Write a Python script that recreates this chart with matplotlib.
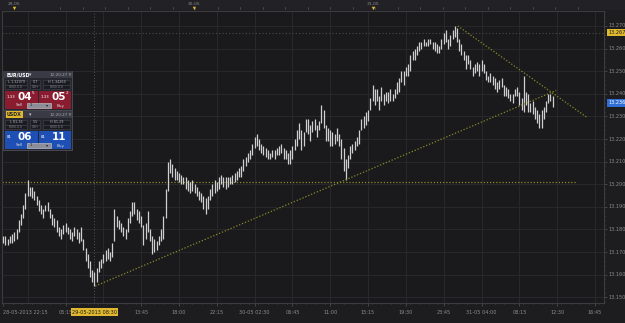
import numpy as np
import matplotlib
matplotlib.use("Agg")
import matplotlib.pyplot as plt
from matplotlib.patches import Rectangle

# 15 minute bars starting 28-05-2013 22:15, values in thousandths above 13.000
bar_high = [177, 177, 176, 177, 178, 179, 180, 184, 187, 191, 196, 202, 199, 199, 197, 195,
            193, 191, 189, 191, 192, 189, 187, 185, 184, 181, 180, 182, 183, 181, 180, 179,
            181, 180, 179, 181, 176, 172, 169, 166, 162, 161, 163, 166, 167, 169, 171, 172,
            170, 174, 189, 186, 184, 183, 181, 180, 185, 188, 192, 192, 189, 188, 186, 182,
            183, 188, 180, 177, 176, 175, 177, 180, 186, 198, 210, 211, 209, 207, 206, 205,
            204, 203, 203, 202, 201, 202, 200, 199, 197, 196, 195, 194, 195, 198, 200, 202,
            201, 203, 204, 203, 203, 203, 203, 204, 205, 206, 207, 208, 211, 212, 214, 215,
            218, 221, 222, 220, 218, 217, 216, 215, 214, 215, 215, 216, 217, 218, 216, 215,
            214, 215, 217, 220, 224, 227, 224, 223, 229, 229, 226, 228, 229, 226, 228, 235,
            233, 226, 225, 224, 223, 222, 225, 222, 220, 216, 211, 213, 217, 218, 219, 221,
            224, 229, 230, 232, 233, 238, 244, 242, 242, 239, 243, 240, 241, 241, 242, 240,
            242, 245, 247, 250, 250, 252, 253, 257, 259, 260, 261, 263, 263, 264, 263, 264,
            264, 263, 263, 262, 261, 264, 267, 268, 264, 266, 268, 270, 269, 264, 262, 259,
            257, 257, 255, 252, 253, 254, 253, 255, 253, 250, 248, 249, 248, 247, 245, 246,
            247, 244, 243, 242, 240, 240, 242, 243, 241, 238, 248, 241, 240, 236, 237, 234,
            233, 231, 233, 234, 237, 240, 240, 239]
bar_low = [174, 173, 173, 174, 174, 175, 176, 179, 182, 185, 189, 195, 195, 194, 193, 191,
           188, 187, 185, 188, 188, 185, 182, 181, 179, 177, 176, 178, 179, 178, 176, 175,
           177, 176, 174, 175, 171, 166, 163, 159, 157, 155, 157, 161, 163, 165, 166, 167,
           166, 168, 175, 181, 180, 179, 177, 176, 179, 183, 186, 187, 184, 183, 181, 173,
           176, 179, 175, 169, 170, 171, 173, 175, 176, 185, 197, 205, 203, 202, 202, 201,
           200, 200, 198, 197, 196, 197, 196, 195, 193, 192, 189, 187, 189, 193, 195, 196,
           197, 198, 200, 199, 198, 199, 200, 200, 201, 202, 203, 203, 206, 208, 210, 211,
           213, 216, 217, 215, 214, 213, 212, 211, 211, 212, 211, 213, 213, 214, 211, 211,
           209, 209, 211, 215, 217, 220, 215, 217, 223, 222, 219, 223, 224, 221, 224, 227,
           225, 219, 219, 217, 217, 218, 219, 217, 211, 206, 202, 207, 211, 214, 215, 217,
           218, 224, 225, 226, 228, 233, 237, 235, 237, 233, 237, 235, 237, 236, 237, 237,
           238, 240, 241, 245, 244, 248, 248, 250, 255, 255, 257, 259, 260, 261, 261, 261,
           262, 260, 259, 258, 258, 260, 262, 263, 260, 261, 264, 265, 263, 259, 257, 255,
           251, 253, 251, 248, 249, 250, 248, 250, 249, 246, 245, 245, 244, 242, 241, 242,
           243, 239, 239, 238, 237, 236, 239, 239, 235, 233, 232, 235, 232, 232, 231, 229,
           227, 225, 225, 229, 232, 236, 237, 234]

# tick bars (index) and their labels
tick_idx = [0, 28, 62, 79, 96, 113, 130, 147, 164, 181, 198, 215, 232, 249, 266]
tick_lbl = ["28-05-2013 22:15", "05:15", "13:45", "18:00", "22:15", "30-05 02:30", "06:45",
            "11:00", "15:15", "19:30", "23:45", "31-05 04:00", "08:15", "12:30", "16:45"]
grid_idx = [11, 28, 45, 62, 79, 96, 113, 130, 147, 164, 181, 198, 215, 232, 249, 266]
price_ticks = [13.150, 13.160, 13.170, 13.180, 13.190, 13.200, 13.210, 13.220,
               13.230, 13.240, 13.250, 13.260, 13.270]

# drawn objects
support_level = 13.201
top_level = 13.267
last_price = 13.236
up_line_idx = [41.4, 248.6]
up_line_px = [13.155, 13.2415]
down_line_idx = [204.3, 262.5]
down_line_px = [13.270, 13.2295]
cursor_idx = 41
cursor_lbl = "29-05-2013 08:30"

# trade panel texts
eur_rows = [["L 1.32979", "0.7", "H 1.34269"], ["8000.0.0", "0.8+", "8000.0.0"]]
usdx_rows = [["L 81.36", "5.5", "H 81.29"], ["8000.0.0", "0.8+", "8000.0.0"]]

bg = "#1d1d1f"
grid_c = "#2b2b2e"
txt_c = "#8c8c8c"
line_c = "#8a8a2a"

hi = 13 + np.array(bar_high) / 1000.0
lo = 13 + np.array(bar_low) / 1000.0
idx = np.arange(len(hi))

fig = plt.figure(figsize=(6.25, 3.23), dpi=100)
fig.patch.set_facecolor(bg)
ax = fig.add_axes([0.003, 20 / 323, 602 / 625, 292 / 323])
ax.set_facecolor("#1a1a1c")
ax.set_xlim(-0.6, 270)
ax.set_ylim(13.1475, 13.2766)

for v in grid_idx:
    ax.axvline(v, color=grid_c, lw=0.6, zorder=0)
for p in price_ticks:
    ax.axhline(p, color=grid_c, lw=0.6, zorder=0)

ax.vlines(idx, lo, hi, color="#cfcfcf", lw=0.9, zorder=3)

ax.axhline(support_level, xmax=0.955, color=line_c, lw=0.9, ls=(0, (1, 1.5)), zorder=2)
ax.axhline(top_level, color="#4a4a4a", lw=0.8, ls=(0, (1, 2)), zorder=2)
ax.axvline(cursor_idx, color="#555555", lw=0.7, ls=(0, (1, 2)), zorder=1)
ax.plot(up_line_idx, up_line_px, color=line_c, lw=0.9, ls=(0, (1, 1.5)), zorder=4)
ax.plot(down_line_idx, down_line_px, color=line_c, lw=0.9, ls=(0, (1, 1.5)), zorder=4)

ax.set_xticks(tick_idx)
ax.set_xticklabels([])
ax.set_xticks(np.arange(0, 270, 4.25), minor=True)
ax.set_yticks(price_ticks)
ax.set_yticklabels([])
ax.set_yticks(np.arange(13.148, 13.277, 0.002), minor=True)
ax.tick_params(which="both", colors="#555555", length=2, width=0.5,
               bottom=True, top=False, left=False, right=True)
ax.tick_params(which="minor", length=1)
for s in ax.spines.values():
    s.set_color("#3c3c40")
    s.set_linewidth(0.8)

for i, lab in zip(tick_idx, tick_lbl):
    ax.text(i if i > 0 else -0.3, 13.1445, lab, color=txt_c, fontsize=3.6,
            ha="center" if i > 0 else "left", va="top")
for p in price_ticks:
    ax.text(270 + 2, p, "%.3f" % p, color=txt_c, fontsize=3.6, va="center", ha="left",
            clip_on=False)

ax.text(cursor_idx, 13.1446, cursor_lbl, color="#1a1a1a", fontsize=3.6, ha="center",
        va="top", bbox=dict(boxstyle="square,pad=0.25", fc="#e0b830", ec="none"))
ax.text(272, top_level, "%.3f" % top_level, color="#1a1a1a", fontsize=3.6, va="center",
        ha="left", clip_on=False,
        bbox=dict(boxstyle="square,pad=0.25", fc="#e0b830", ec="none"))
ax.text(272, last_price, "%.3f" % last_price, color="white", fontsize=3.6, va="center",
        ha="left", clip_on=False,
        bbox=dict(boxstyle="square,pad=0.25", fc="#2f6fd6", ec="none"))

# overlay in pixel coordinates for the top strip and the trade panels
ov = fig.add_axes([0, 0, 1, 1])
ov.set_xlim(0, 625)
ov.set_ylim(323, 0)
ov.axis("off")
ov.add_patch(Rectangle((0, 0), 625, 10, fc="#222226", ec="none"))
for x, lab in [(14, "29-05"), (194, "30-05"), (373, "31-05")]:
    ov.text(x, 4, lab, color=txt_c, fontsize=3.2, ha="center", va="center")
    ov.plot([x], [8.3], marker="v", ms=2.5, color="#e0b830", mec="none")
for x in np.arange(60, 600, 22.5):
    ov.plot([x, x], [7, 9], color="#555555", lw=0.5)


def panel(y0, name, name_bg, btn_c, left, right, sup_l, sup_r, rows):
    ov.add_patch(Rectangle((3, y0), 69, 39, fc="#26262e", ec="#50505c", lw=0.6))
    ov.add_patch(Rectangle((3, y0), 69, 7, fc="#3a3a46", ec="none"))
    ov.text(7, y0 + 3.6, name, color="white" if name_bg is None else "#222222",
            fontsize=3.4, fontweight="bold", va="center",
            bbox=None if name_bg is None else dict(boxstyle="square,pad=0.2", fc=name_bg, ec="none"))
    ov.text(29, y0 + 3.6, "▾", color="#cccccc", fontsize=3.4, va="center")
    ov.text(50, y0 + 3.6, "12:20:27", color="#aaaaaa", fontsize=3.0, va="center")
    ov.text(67, y0 + 3.6, "×", color="#aaaaaa", fontsize=3.4, va="center")
    for k, (bx, bw) in enumerate([(5, 22), (30, 10), (43, 27)]):
        ov.add_patch(Rectangle((bx, y0 + 8.5), bw, 5, fc="#1b1b22", ec="#44444e", lw=0.4))
        ov.add_patch(Rectangle((bx, y0 + 14), bw, 4, fc="#1b1b22", ec="#44444e", lw=0.4))
        ov.text(bx + bw / 2, y0 + 11, rows[0][k], color="#b0b0b8", fontsize=2.4,
                ha="center", va="center")
        ov.text(bx + bw / 2, y0 + 16, rows[1][k], color="#8a8a92", fontsize=2.2,
                ha="center", va="center")
    ov.add_patch(Rectangle((5, y0 + 19.5), 32.5, 18, fc=btn_c, ec="none"))
    ov.add_patch(Rectangle((39, y0 + 19.5), 32, 18, fc=btn_c, ec="none"))
    ov.text(7, y0 + 26, left[0], color="white", fontsize=2.8, va="center")
    ov.text(17.5, y0 + 26, left[1], color="white", fontsize=7.5, fontweight="bold", va="center")
    ov.text(32, y0 + 22.5, sup_l, color="white", fontsize=3.0, va="center")
    ov.text(41, y0 + 26, right[0], color="white", fontsize=2.8, va="center")
    ov.text(51.5, y0 + 26, right[1], color="white", fontsize=7.5, fontweight="bold", va="center")
    ov.text(66, y0 + 22.5, sup_r, color="white", fontsize=3.0, va="center")
    ov.text(16, y0 + 34.5, "Sell", color="#dddddd", fontsize=3.0, va="center")
    ov.text(57, y0 + 34.5, "Buy", color="#dddddd", fontsize=3.0, va="center")
    ov.add_patch(Rectangle((27, y0 + 31.5), 24, 5.5, fc="#8e8e9a", ec="#cccccc", lw=0.4))
    ov.text(30, y0 + 34.3, "1", color="#222222", fontsize=3.0, va="center")
    ov.text(46, y0 + 34.3, "▾", color="#222222", fontsize=3.0, va="center")


panel(71, "EUR/USD", None, "#8a1c30", ("1.33", "04"), ("1.33", "05"), "5", "2", eur_rows)
panel(111, "USDX", "#e0b830", "#1d4fb5", ("81", "06"), ("81", "11"), "", "", usdx_rows)

fig.savefig("out.png", dpi=100, facecolor=fig.get_facecolor())
